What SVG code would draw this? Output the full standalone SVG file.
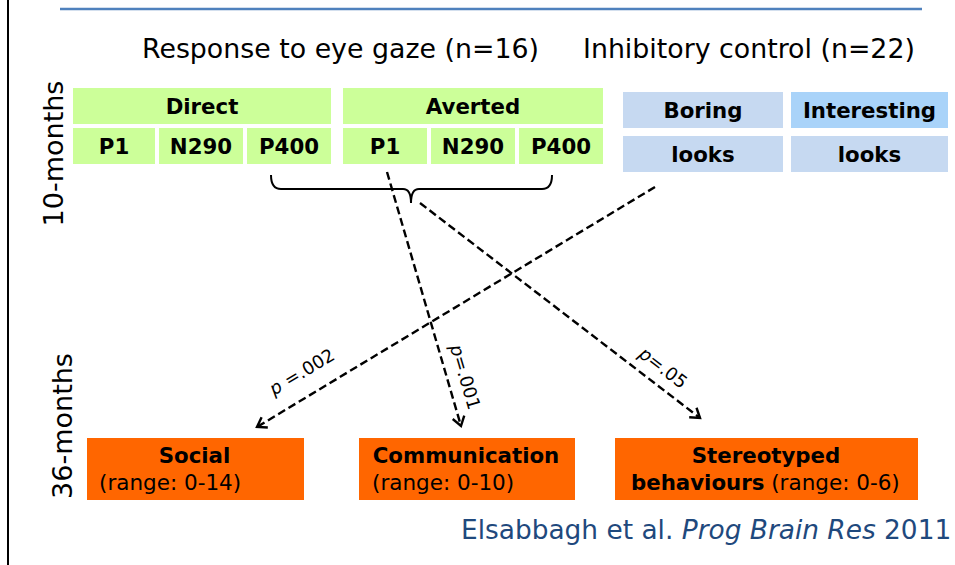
<svg xmlns="http://www.w3.org/2000/svg" width="955" height="565" viewBox="0 0 955 565">
<defs>
<style>
.t{font-family:"DejaVu Sans","Verdana",sans-serif;fill:#000}
.b{font-weight:bold;font-size:21.3px;text-anchor:middle}
.r{font-size:21.5px}
.g{fill:#ccff99}
.bl{fill:#c6d9f1}
.bl2{fill:#a9d3f9}
.o{fill:#ff6600}
.dash{stroke:#000;stroke-width:2.4;fill:none;stroke-dasharray:8 4;marker-end:url(#ah)}
.pl{font-size:18px}
</style>
<marker id="ah" markerUnits="userSpaceOnUse" markerWidth="16" markerHeight="16" viewBox="-12 -8 16 16" refX="0" refY="0" orient="auto">
<path d="M-9,-6 L0,0 L-9,6" fill="none" stroke="#000" stroke-width="2.4" stroke-dasharray="none"/>
</marker>
</defs>
<rect width="955" height="565" fill="#fff"/>
<line x1="8" y1="0" x2="8" y2="565" stroke="#000" stroke-width="2"/>
<line x1="60" y1="9" x2="922" y2="9" stroke="#4f81bd" stroke-width="2.5"/>
<text class="t" x="142" y="58" font-size="26.8">Response to eye gaze (n=16)</text>
<text class="t" x="583" y="58" font-size="26.8">Inhibitory control (n=22)</text>
<text class="t" font-size="27" text-anchor="middle" transform="translate(63,153.5) rotate(-90)">10-months</text>
<text class="t" font-size="27" text-anchor="middle" transform="translate(72,426) rotate(-90)">36-months</text>

<g id="direct"><rect class="g" x="73" y="88" width="258" height="36"/><text class="t b" x="202" y="114">Direct</text></g>
<g id="direct-p1"><rect class="g" x="73" y="128" width="82" height="36"/><text class="t b" x="114" y="154">P1</text></g>
<g id="direct-n290"><rect class="g" x="159" y="128" width="84" height="36"/><text class="t b" x="201" y="154">N290</text></g>
<g id="direct-p400"><rect class="g" x="247" y="128" width="84" height="36"/><text class="t b" x="289" y="154">P400</text></g>
<g id="averted"><rect class="g" x="343" y="88" width="260" height="36"/><text class="t b" x="473" y="114">Averted</text></g>
<g id="averted-p1"><rect class="g" x="343" y="128" width="84" height="36"/><text class="t b" x="385" y="154">P1</text></g>
<g id="averted-n290"><rect class="g" x="431" y="128" width="84" height="36"/><text class="t b" x="473" y="154">N290</text></g>
<g id="averted-p400"><rect class="g" x="519" y="128" width="84" height="36"/><text class="t b" x="561" y="154">P400</text></g>

<g id="boring"><rect class="bl" x="623" y="92" width="160" height="36"/><text class="t b" x="703" y="118">Boring</text></g>
<g id="interesting"><rect class="bl2" x="791" y="92" width="157" height="36"/><text class="t b" x="869.5" y="118">Interesting</text></g>
<g id="boring-looks"><rect class="bl" x="623" y="136" width="160" height="36"/><text class="t b" x="703" y="162">looks</text></g>
<g id="interesting-looks"><rect class="bl" x="791" y="136" width="157" height="36"/><text class="t b" x="869.5" y="162">looks</text></g>

<g id="social"><rect class="o" x="87" y="438" width="217" height="62"/><text class="t b" x="194.5" y="463">Social</text><text class="t r" x="99" y="490">(range: 0-14)</text></g>
<g id="communication"><rect class="o" x="359" y="438" width="216" height="62"/><text class="t b" x="466" y="463">Communication</text><text class="t r" x="372" y="490">(range: 0-10)</text></g>
<g id="stereotyped"><rect class="o" x="615" y="438" width="303" height="62"/><text class="t b" x="766" y="463">Stereotyped</text><text class="t r" x="631" y="490"><tspan font-weight="bold" font-size="21.3">behaviours</tspan> (range: 0-6)</text></g>

<g id="connectors">
<path d="M271,175 Q271,189 281,189 L403,189 Q411,189 411,203 Q411,189 419,189 L542,189 Q552,189 552,175" fill="none" stroke="#000" stroke-width="2"/>
<line class="dash" x1="387" y1="172" x2="461" y2="426"/>
<line class="dash" x1="420" y1="203" x2="700" y2="418"/>
<line class="dash" x1="655" y1="187" x2="257" y2="427"/>
<text class="t pl" text-anchor="middle" transform="translate(302,372) rotate(-31)" y="6"><tspan font-style="italic">p</tspan> =.002</text>
<text class="t pl" text-anchor="middle" transform="translate(465,377) rotate(73.6)" y="6"><tspan font-style="italic">p</tspan>=.001</text>
<text class="t pl" text-anchor="middle" transform="translate(663,368) rotate(37.5)" y="6"><tspan font-style="italic">p</tspan>=.05</text>
</g>

<text class="t" x="461" y="539" font-size="26.4" style="fill:#1f497d">Elsabbagh et al. <tspan font-style="italic">Prog Brain Res</tspan> 2011</text>
</svg>
